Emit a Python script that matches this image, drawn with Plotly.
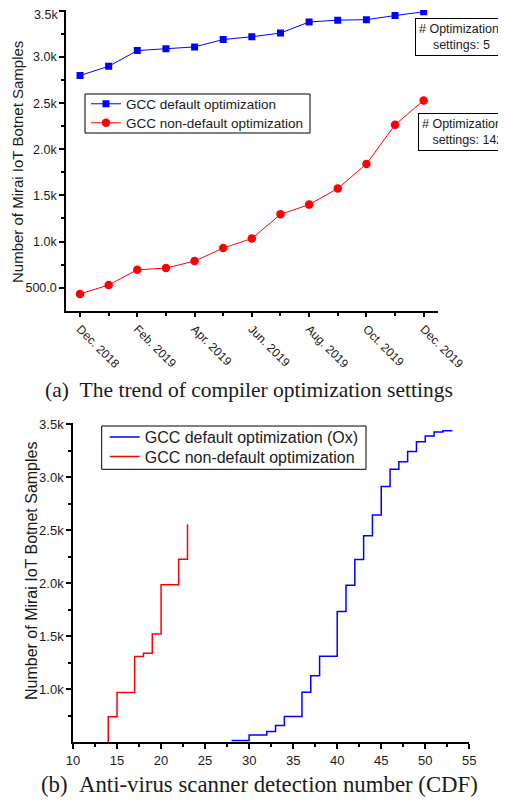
import plotly.graph_objects as go

# Page body has an 8px margin, so the figure is smaller and all
# pixel positions below are given in reference-image pixels.
OFF = 8
W, H = 506 - OFF, 801 - OFF

# ---------------- data: (a) monthly trend ----------------
months = ["Dec. 2018", "Jan. 2019", "Feb. 2019", "Mar. 2019", "Apr. 2019", "May 2019",
          "Jun. 2019", "Jul. 2019", "Aug. 2019", "Sep. 2019", "Oct. 2019", "Nov. 2019",
          "Dec. 2019"]
default_opt = [2800, 2900, 3070, 3090, 3110, 3190, 3220, 3260, 3380, 3400, 3405, 3450, 3490]
nondefault_opt = [432, 529, 694, 712, 788, 929, 1032, 1295, 1400, 1575, 1840, 2265, 2530]
month_tick_labels = ["Dec. 2018", "Feb. 2019", "Apr. 2019", "Jun. 2019", "Aug. 2019",
                     "Oct. 2019", "Dec. 2019"]
ya_tickvals = [500, 1000, 1500, 2000, 2500, 3000, 3500]
ya_ticktext = ["500.0", "1.0k", "1.5k", "2.0k", "2.5k", "3.0k", ""]
ya_top_label = "3.5k"

# ---------------- data: (b) CDF of detection number ----------------
det_default = [28, 30, 32, 33, 34, 36, 37, 38, 40, 41, 42, 43, 44, 45, 46, 47, 48, 49, 50, 51, 52, 53]
cdf_default = [518, 568, 602, 659, 743, 972, 1128, 1312, 1732, 1981, 2224, 2446, 2642, 2912,
               3073, 3144, 3242, 3333, 3387, 3425, 3437, 3445]
det_nondefault = [14, 14, 15, 17, 18, 19, 20, 22, 23]
cdf_nondefault = [0, 740, 970, 1310, 1340, 1520, 1985, 2225, 2555]
yb_tickvals = [1000, 1500, 2000, 2500, 3000, 3500]
yb_ticktext = ["1.0k", "1.5k", "2.0k", "2.5k", "3.0k", "3.5k"]

BLUE = "#0000FF"
RED = "#FF0000"
SANS = "Liberation Sans, Arial, sans-serif"
SERIF = "Liberation Serif, Times New Roman, serif"
TXT = "#1a1a1a"
CLEAR = "rgba(0,0,0,0)"

def px_x(p):
    return (p - OFF) / W

def px_y(p):
    return 1 - (p - OFF) / H

fig = go.Figure()

month_idx = list(range(len(months)))
fig.add_trace(go.Scatter(x=month_idx, y=default_opt, mode="lines+markers",
                         name="GCC default optimization",
                         line=dict(color=BLUE, width=1),
                         marker=dict(symbol="square", size=7, color=BLUE),
                         xaxis="x", yaxis="y", legend="legend"))
fig.add_trace(go.Scatter(x=month_idx, y=nondefault_opt, mode="lines+markers",
                         name="GCC non-default optimization",
                         line=dict(color=RED, width=1),
                         marker=dict(symbol="circle", size=8.5, color=RED),
                         xaxis="x", yaxis="y", legend="legend4"))

fig.add_trace(go.Scatter(x=det_default, y=cdf_default, mode="lines",
                         name="GCC default optimization (Ox)",
                         line=dict(color=BLUE, width=1.5, shape="hv"),
                         xaxis="x2", yaxis="y2", legend="legend2"))
fig.add_trace(go.Scatter(x=det_nondefault, y=cdf_nondefault, mode="lines",
                         name="GCC non-default optimization",
                         line=dict(color=RED, width=1.5, shape="hv"),
                         xaxis="x2", yaxis="y2", legend="legend3"))

axis_common = dict(showline=True, linecolor="black", linewidth=1.5, ticks="outside",
                   tickcolor="black", tickwidth=1.5, ticklen=5, showgrid=False,
                   zeroline=False, mirror=False, automargin=False,
                   ticklabeloverflow="allow")

legend_common = dict(xanchor="left", yanchor="top", borderwidth=0, bgcolor=CLEAR,
                     tracegroupgap=0)

fig.update_layout(
    width=W, height=H, autosize=False,
    margin=dict(l=0, r=0, t=0, b=0, pad=0, autoexpand=False),
    paper_bgcolor="white", plot_bgcolor="white",
    font=dict(family=SANS, color=TXT),
    showlegend=True,
    xaxis=dict(domain=[px_x(66), px_x(437.7)], range=[-0.49, 12.49],
               tickvals=list(range(0, 13, 2)), ticktext=month_tick_labels,
               tickangle=45, tickfont=dict(size=12, family=SANS, color=TXT),
               minor=dict(tickvals=list(range(1, 13, 2)), ticks="outside", ticklen=4,
                          tickcolor="black", tickwidth=1.5),
               anchor="y", **axis_common),
    yaxis=dict(domain=[px_y(310.7), px_y(10)], range=[250, 3510],
               tickvals=ya_tickvals, ticktext=ya_ticktext,
               tickfont=dict(size=12.5, family=SANS, color=TXT),
               minor=dict(tickvals=[750, 1250, 1750, 2250, 2750, 3250], ticks="outside",
                          ticklen=3, tickcolor="black", tickwidth=1.5),
               anchor="x", **axis_common),
    xaxis2=dict(domain=[px_x(73), px_x(469.3)], range=[10, 55],
                tickvals=list(range(10, 56, 5)),
                tickfont=dict(size=13, family=SANS, color=TXT),
                minor=dict(tickvals=[12.5 + 5 * i for i in range(9)], ticks="outside",
                           ticklen=3, tickcolor="black", tickwidth=1.5),
                anchor="y2", **axis_common),
    yaxis2=dict(domain=[px_y(742.3), px_y(423)], range=[500, 3510],
                tickvals=yb_tickvals, ticktext=yb_ticktext,
                tickfont=dict(size=13, family=SANS, color=TXT),
                minor=dict(tickvals=[750, 1250, 1750, 2250, 2750, 3250], ticks="outside",
                           ticklen=3, tickcolor="black", tickwidth=1.5),
                anchor="x2", **axis_common),
    legend=dict(x=px_x(86), y=px_y(88.5), font=dict(size=13.5, family=SANS, color=TXT),
                **legend_common),
    legend4=dict(x=px_x(86), y=px_y(107.5), font=dict(size=13.5, family=SANS, color=TXT),
                 **legend_common),
    legend2=dict(x=px_x(104.7), y=px_y(420), font=dict(size=16, family=SANS, color=TXT),
                 **legend_common),
    legend3=dict(x=px_x(104.7), y=px_y(439.5), font=dict(size=16, family=SANS, color=TXT),
                 **legend_common),
)

# legend frames
fig.add_shape(type="rect", xref="paper", yref="paper",
              x0=px_x(85), x1=px_x(310), y0=px_y(133), y1=px_y(94),
              line=dict(color="black", width=1), fillcolor=CLEAR, layer="above")
fig.add_shape(type="rect", xref="paper", yref="paper",
              x0=px_x(101.7), x1=px_x(366), y0=px_y(469.3), y1=px_y(426),
              line=dict(color="black", width=1), fillcolor=CLEAR, layer="above")

nb = "\u00a0"
annotations = [
    # top tick label of panel (a), nudged down so that it stays inside the page
    dict(text=ya_top_label, x=px_x(59.5), y=ya_tickvals[-1], xref="paper", yref="y",
         xanchor="right", yanchor="middle", yshift=-4, showarrow=False,
         font=dict(size=12.5, family=SANS, color=TXT)),
    dict(text="# Optimization<br>" + nb * 4 + "settings: 5", x=px_x(415), y=px_y(18),
         xref="paper", yref="paper", xanchor="left", yanchor="top", align="left",
         showarrow=False, bordercolor="black", borderwidth=1, borderpad=3,
         bgcolor="white", font=dict(size=12.5, family=SANS, color=TXT)),
    dict(text="# Optimization<br>" + nb * 3 + "settings: 142", x=px_x(418), y=px_y(113),
         xref="paper", yref="paper", xanchor="left", yanchor="top", align="left",
         showarrow=False, bordercolor="black", borderwidth=1, borderpad=3,
         bgcolor="white", font=dict(size=12.5, family=SANS, color=TXT)),
    dict(text="Number of Mirai IoT Botnet Samples", textangle=-90,
         x=px_x(17), y=px_y(162), xref="paper", yref="paper",
         xanchor="center", yanchor="middle", showarrow=False,
         font=dict(size=15, family=SANS, color=TXT)),
    dict(text="Number of Mirai IoT Botnet Samples", textangle=-90,
         x=px_x(31), y=px_y(571), xref="paper", yref="paper",
         xanchor="center", yanchor="middle", showarrow=False,
         font=dict(size=16, family=SANS, color=TXT)),
    dict(text="(a)" + nb * 2 + "The trend of compiler optimization settings",
         x=px_x(248.5), y=px_y(390), xref="paper", yref="paper",
         xanchor="center", yanchor="middle", showarrow=False,
         font=dict(size=21.5, family=SERIF, color=TXT)),
    dict(text="(b)" + nb * 2 + "Anti-virus scanner detection number (CDF)",
         x=px_x(259.5), y=px_y(784), xref="paper", yref="paper",
         xanchor="center", yanchor="middle", showarrow=False,
         font=dict(size=22.8, family=SERIF, color=TXT)),
]
fig.update_layout(annotations=annotations)

fig.write_html("out.html")
